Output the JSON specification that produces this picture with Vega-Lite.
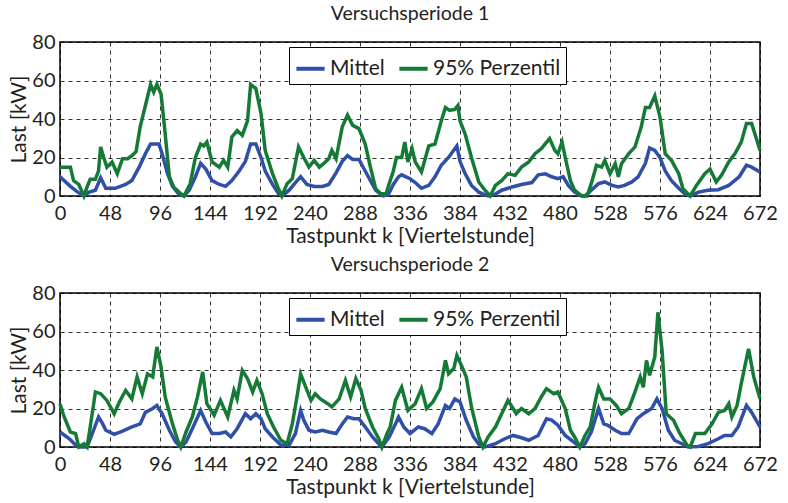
{
"$schema": "https://vega.github.io/schema/vega-lite/v6.json",
"background": "white",
"padding": {"left": 8, "top": 2, "right": 5, "bottom": 5},
"config": {
 "font": "Lato",
 "view": {"stroke": "black", "strokeWidth": 1.5},
 "axis": {"grid": true, "gridColor": "black", "gridDash": [4, 4], "gridOpacity": 0.8, "gridWidth": 1, "domain": false, "ticks": false, "labelFontSize": 20, "labelColor": "#231f20", "titleFontSize": 21, "titleFontWeight": "normal", "titleColor": "#231f20", "labelPadding": 7, "titlePadding": 2, "labelOverlap": false, "labelFlush": false},
 "axisY": {"labelPadding": 5},
 "title": {"fontSize": 19.5, "fontWeight": "normal", "color": "#231f20", "offset": 8},
 "legend": {"strokeColor": "black", "fillColor": "white", "padding": 5, "symbolType": "stroke", "symbolStrokeWidth": 4, "symbolSize": 800, "labelFontSize": 21, "labelColor": "#231f20", "columnPadding": 6, "labelOffset": 3}
},
"spacing": 6,
"resolve": {"legend": {"color": "independent"}},
"datasets": {
"p1": [
{"s":"Mittel","k":0,"v":10},{"s":"Mittel","k":10,"v":5},{"s":"Mittel","k":17,"v":2},{"s":"Mittel","k":23,"v":0},{"s":"Mittel","k":28,"v":2},{"s":"Mittel","k":34,"v":3},{"s":"Mittel","k":39,"v":9.5},{"s":"Mittel","k":44,"v":4},{"s":"Mittel","k":53,"v":4},{"s":"Mittel","k":63,"v":6},{"s":"Mittel","k":69,"v":8},{"s":"Mittel","k":76,"v":15},{"s":"Mittel","k":82,"v":22},{"s":"Mittel","k":87,"v":27},{"s":"Mittel","k":95,"v":27},{"s":"Mittel","k":98,"v":22},{"s":"Mittel","k":103,"v":12},{"s":"Mittel","k":108,"v":5},{"s":"Mittel","k":114,"v":1},{"s":"Mittel","k":119,"v":0},{"s":"Mittel","k":124,"v":3},{"s":"Mittel","k":130,"v":10},{"s":"Mittel","k":135,"v":17},{"s":"Mittel","k":140,"v":14},{"s":"Mittel","k":146,"v":8},{"s":"Mittel","k":153,"v":6},{"s":"Mittel","k":159,"v":5},{"s":"Mittel","k":165,"v":8},{"s":"Mittel","k":172,"v":13},{"s":"Mittel","k":178,"v":18},{"s":"Mittel","k":183,"v":27},{"s":"Mittel","k":188,"v":27},{"s":"Mittel","k":193,"v":20},{"s":"Mittel","k":197,"v":13},{"s":"Mittel","k":204,"v":6},{"s":"Mittel","k":210,"v":1},{"s":"Mittel","k":213,"v":0},{"s":"Mittel","k":220,"v":3},{"s":"Mittel","k":226,"v":7},{"s":"Mittel","k":231,"v":10},{"s":"Mittel","k":237,"v":6},{"s":"Mittel","k":244,"v":5},{"s":"Mittel","k":252,"v":5},{"s":"Mittel","k":258,"v":6},{"s":"Mittel","k":265,"v":12},{"s":"Mittel","k":271,"v":18},{"s":"Mittel","k":276,"v":21},{"s":"Mittel","k":281,"v":19},{"s":"Mittel","k":287,"v":19},{"s":"Mittel","k":293,"v":13},{"s":"Mittel","k":298,"v":8},{"s":"Mittel","k":303,"v":3},{"s":"Mittel","k":310,"v":0},{"s":"Mittel","k":315,"v":0.5},{"s":"Mittel","k":320,"v":6},{"s":"Mittel","k":325,"v":10},{"s":"Mittel","k":328,"v":11},{"s":"Mittel","k":336,"v":9},{"s":"Mittel","k":341,"v":7},{"s":"Mittel","k":347,"v":4},{"s":"Mittel","k":354,"v":5.5},{"s":"Mittel","k":360,"v":10},{"s":"Mittel","k":366,"v":16},{"s":"Mittel","k":373,"v":20},{"s":"Mittel","k":379,"v":24.5},{"s":"Mittel","k":381,"v":26},{"s":"Mittel","k":384,"v":18},{"s":"Mittel","k":389,"v":11.5},{"s":"Mittel","k":395,"v":5.5},{"s":"Mittel","k":402,"v":2},{"s":"Mittel","k":411,"v":0},{"s":"Mittel","k":418,"v":1},{"s":"Mittel","k":424,"v":3},{"s":"Mittel","k":434,"v":4.7},{"s":"Mittel","k":443,"v":6},{"s":"Mittel","k":453,"v":7},{"s":"Mittel","k":459,"v":11},{"s":"Mittel","k":466,"v":11.5},{"s":"Mittel","k":472,"v":10},{"s":"Mittel","k":478,"v":9},{"s":"Mittel","k":483,"v":10},{"s":"Mittel","k":488,"v":5.5},{"s":"Mittel","k":494,"v":2},{"s":"Mittel","k":501,"v":0},{"s":"Mittel","k":504,"v":0},{"s":"Mittel","k":510,"v":3},{"s":"Mittel","k":517,"v":6.4},{"s":"Mittel","k":523,"v":7.3},{"s":"Mittel","k":530,"v":5.5},{"s":"Mittel","k":536,"v":4.7},{"s":"Mittel","k":542,"v":5.5},{"s":"Mittel","k":549,"v":7.3},{"s":"Mittel","k":555,"v":10},{"s":"Mittel","k":562,"v":17},{"s":"Mittel","k":566,"v":25},{"s":"Mittel","k":571,"v":23.7},{"s":"Mittel","k":576,"v":20},{"s":"Mittel","k":581,"v":13},{"s":"Mittel","k":587,"v":8},{"s":"Mittel","k":594,"v":4},{"s":"Mittel","k":600,"v":1},{"s":"Mittel","k":605,"v":0},{"s":"Mittel","k":613,"v":2},{"s":"Mittel","k":622,"v":3},{"s":"Mittel","k":632,"v":3.3},{"s":"Mittel","k":642,"v":5.5},{"s":"Mittel","k":652,"v":10},{"s":"Mittel","k":659,"v":16},{"s":"Mittel","k":664,"v":15},{"s":"Mittel","k":672,"v":12.5},
{"s":"95% Perzentil","k":0,"v":15},{"s":"95% Perzentil","k":10,"v":15},{"s":"95% Perzentil","k":13,"v":8},{"s":"95% Perzentil","k":18,"v":6},{"s":"95% Perzentil","k":23,"v":0},{"s":"95% Perzentil","k":26,"v":4.7},{"s":"95% Perzentil","k":29,"v":8.7},{"s":"95% Perzentil","k":34,"v":8.7},{"s":"95% Perzentil","k":37,"v":13},{"s":"95% Perzentil","k":39,"v":25.5},{"s":"95% Perzentil","k":42,"v":20},{"s":"95% Perzentil","k":45,"v":15},{"s":"95% Perzentil","k":50,"v":17.7},{"s":"95% Perzentil","k":55,"v":11.6},{"s":"95% Perzentil","k":60,"v":19.4},{"s":"95% Perzentil","k":65,"v":19.4},{"s":"95% Perzentil","k":69,"v":21},{"s":"95% Perzentil","k":73,"v":23},{"s":"95% Perzentil","k":77,"v":36},{"s":"95% Perzentil","k":82,"v":47},{"s":"95% Perzentil","k":87,"v":58},{"s":"95% Perzentil","k":90,"v":54},{"s":"95% Perzentil","k":93,"v":58},{"s":"95% Perzentil","k":97,"v":53},{"s":"95% Perzentil","k":100,"v":37.6},{"s":"95% Perzentil","k":105,"v":10},{"s":"95% Perzentil","k":109,"v":4.7},{"s":"95% Perzentil","k":116,"v":1.2},{"s":"95% Perzentil","k":119,"v":0},{"s":"95% Perzentil","k":125,"v":6.4},{"s":"95% Perzentil","k":130,"v":20},{"s":"95% Perzentil","k":135,"v":27},{"s":"95% Perzentil","k":138,"v":26},{"s":"95% Perzentil","k":141,"v":28},{"s":"95% Perzentil","k":146,"v":17.7},{"s":"95% Perzentil","k":153,"v":15},{"s":"95% Perzentil","k":157,"v":18.5},{"s":"95% Perzentil","k":161,"v":15},{"s":"95% Perzentil","k":165,"v":30.7},{"s":"95% Perzentil","k":170,"v":34},{"s":"95% Perzentil","k":175,"v":31.5},{"s":"95% Perzentil","k":180,"v":39},{"s":"95% Perzentil","k":183,"v":58},{"s":"95% Perzentil","k":188,"v":55.8},{"s":"95% Perzentil","k":193,"v":42.8},{"s":"95% Perzentil","k":197,"v":23.7},{"s":"95% Perzentil","k":204,"v":11.6},{"s":"95% Perzentil","k":209,"v":4.7},{"s":"95% Perzentil","k":213,"v":0},{"s":"95% Perzentil","k":218,"v":6.4},{"s":"95% Perzentil","k":223,"v":9},{"s":"95% Perzentil","k":229,"v":25.5},{"s":"95% Perzentil","k":234,"v":20},{"s":"95% Perzentil","k":239,"v":15},{"s":"95% Perzentil","k":244,"v":18.5},{"s":"95% Perzentil","k":249,"v":15},{"s":"95% Perzentil","k":253,"v":16.8},{"s":"95% Perzentil","k":258,"v":19.4},{"s":"95% Perzentil","k":261,"v":23.7},{"s":"95% Perzentil","k":265,"v":19.4},{"s":"95% Perzentil","k":271,"v":36},{"s":"95% Perzentil","k":276,"v":42},{"s":"95% Perzentil","k":281,"v":36.7},{"s":"95% Perzentil","k":287,"v":35},{"s":"95% Perzentil","k":293,"v":27},{"s":"95% Perzentil","k":298,"v":15},{"s":"95% Perzentil","k":303,"v":3.8},{"s":"95% Perzentil","k":308,"v":1.2},{"s":"95% Perzentil","k":313,"v":1.2},{"s":"95% Perzentil","k":315,"v":4.7},{"s":"95% Perzentil","k":320,"v":13},{"s":"95% Perzentil","k":323,"v":20},{"s":"95% Perzentil","k":328,"v":20},{"s":"95% Perzentil","k":331,"v":28},{"s":"95% Perzentil","k":334,"v":17.7},{"s":"95% Perzentil","k":338,"v":24.6},{"s":"95% Perzentil","k":341,"v":17.7},{"s":"95% Perzentil","k":347,"v":12.5},{"s":"95% Perzentil","k":354,"v":26},{"s":"95% Perzentil","k":360,"v":27},{"s":"95% Perzentil","k":366,"v":39},{"s":"95% Perzentil","k":370,"v":46},{"s":"95% Perzentil","k":374,"v":44.5},{"s":"95% Perzentil","k":379,"v":45},{"s":"95% Perzentil","k":382,"v":47},{"s":"95% Perzentil","k":384,"v":39},{"s":"95% Perzentil","k":389,"v":32},{"s":"95% Perzentil","k":395,"v":20},{"s":"95% Perzentil","k":402,"v":7.3},{"s":"95% Perzentil","k":408,"v":3},{"s":"95% Perzentil","k":413,"v":0},{"s":"95% Perzentil","k":418,"v":5.5},{"s":"95% Perzentil","k":424,"v":8},{"s":"95% Perzentil","k":430,"v":11.6},{"s":"95% Perzentil","k":437,"v":10.7},{"s":"95% Perzentil","k":443,"v":15},{"s":"95% Perzentil","k":450,"v":17.7},{"s":"95% Perzentil","k":456,"v":22},{"s":"95% Perzentil","k":462,"v":24.6},{"s":"95% Perzentil","k":470,"v":29.8},{"s":"95% Perzentil","k":475,"v":23.7},{"s":"95% Perzentil","k":478,"v":22},{"s":"95% Perzentil","k":482,"v":28},{"s":"95% Perzentil","k":485,"v":20},{"s":"95% Perzentil","k":490,"v":8},{"s":"95% Perzentil","k":494,"v":3},{"s":"95% Perzentil","k":501,"v":0},{"s":"95% Perzentil","k":506,"v":0},{"s":"95% Perzentil","k":510,"v":6.4},{"s":"95% Perzentil","k":515,"v":16},{"s":"95% Perzentil","k":520,"v":15},{"s":"95% Perzentil","k":523,"v":18.5},{"s":"95% Perzentil","k":528,"v":11.6},{"s":"95% Perzentil","k":533,"v":16.8},{"s":"95% Perzentil","k":536,"v":10},{"s":"95% Perzentil","k":539,"v":16.8},{"s":"95% Perzentil","k":546,"v":22},{"s":"95% Perzentil","k":552,"v":25.5},{"s":"95% Perzentil","k":558,"v":36},{"s":"95% Perzentil","k":562,"v":46},{"s":"95% Perzentil","k":566,"v":46},{"s":"95% Perzentil","k":571,"v":52},{"s":"95% Perzentil","k":576,"v":41},{"s":"95% Perzentil","k":581,"v":22},{"s":"95% Perzentil","k":587,"v":18.5},{"s":"95% Perzentil","k":594,"v":11.6},{"s":"95% Perzentil","k":598,"v":3.8},{"s":"95% Perzentil","k":605,"v":0},{"s":"95% Perzentil","k":611,"v":5.5},{"s":"95% Perzentil","k":619,"v":11.6},{"s":"95% Perzentil","k":624,"v":14},{"s":"95% Perzentil","k":630,"v":7.3},{"s":"95% Perzentil","k":635,"v":10.7},{"s":"95% Perzentil","k":642,"v":17.7},{"s":"95% Perzentil","k":648,"v":22},{"s":"95% Perzentil","k":654,"v":28},{"s":"95% Perzentil","k":659,"v":37.6},{"s":"95% Perzentil","k":664,"v":37.6},{"s":"95% Perzentil","k":669,"v":29},{"s":"95% Perzentil","k":672,"v":23.7}
],
"p2": [
{"s":"Mittel","k":0,"v":7.8},{"s":"Mittel","k":9,"v":4.3},{"s":"Mittel","k":15,"v":1},{"s":"Mittel","k":18,"v":0},{"s":"Mittel","k":26,"v":0},{"s":"Mittel","k":31,"v":7},{"s":"Mittel","k":37,"v":15.6},{"s":"Mittel","k":41,"v":12},{"s":"Mittel","k":44,"v":8.7},{"s":"Mittel","k":52,"v":6.6},{"s":"Mittel","k":60,"v":8.3},{"s":"Mittel","k":69,"v":10.4},{"s":"Mittel","k":77,"v":12},{"s":"Mittel","k":82,"v":18},{"s":"Mittel","k":89,"v":20},{"s":"Mittel","k":93,"v":21.6},{"s":"Mittel","k":98,"v":17.3},{"s":"Mittel","k":105,"v":8.7},{"s":"Mittel","k":111,"v":2.6},{"s":"Mittel","k":116,"v":0},{"s":"Mittel","k":121,"v":2.6},{"s":"Mittel","k":127,"v":9.5},{"s":"Mittel","k":135,"v":19},{"s":"Mittel","k":140,"v":13},{"s":"Mittel","k":146,"v":7},{"s":"Mittel","k":153,"v":7},{"s":"Mittel","k":159,"v":7.8},{"s":"Mittel","k":164,"v":5.2},{"s":"Mittel","k":170,"v":9.5},{"s":"Mittel","k":178,"v":17.3},{"s":"Mittel","k":183,"v":14.7},{"s":"Mittel","k":188,"v":17.3},{"s":"Mittel","k":193,"v":14.7},{"s":"Mittel","k":197,"v":9.5},{"s":"Mittel","k":204,"v":5.2},{"s":"Mittel","k":212,"v":1},{"s":"Mittel","k":220,"v":1},{"s":"Mittel","k":226,"v":7},{"s":"Mittel","k":231,"v":19},{"s":"Mittel","k":234,"v":14},{"s":"Mittel","k":239,"v":8.7},{"s":"Mittel","k":245,"v":7.8},{"s":"Mittel","k":252,"v":8.7},{"s":"Mittel","k":258,"v":7.8},{"s":"Mittel","k":265,"v":7},{"s":"Mittel","k":271,"v":12},{"s":"Mittel","k":276,"v":15.6},{"s":"Mittel","k":282,"v":14.7},{"s":"Mittel","k":287,"v":14.7},{"s":"Mittel","k":293,"v":10.4},{"s":"Mittel","k":300,"v":5.2},{"s":"Mittel","k":306,"v":1.7},{"s":"Mittel","k":309,"v":0},{"s":"Mittel","k":316,"v":5.2},{"s":"Mittel","k":322,"v":12},{"s":"Mittel","k":325,"v":15.6},{"s":"Mittel","k":330,"v":10.4},{"s":"Mittel","k":336,"v":7},{"s":"Mittel","k":344,"v":10.4},{"s":"Mittel","k":350,"v":9.5},{"s":"Mittel","k":357,"v":7},{"s":"Mittel","k":363,"v":12},{"s":"Mittel","k":370,"v":21.6},{"s":"Mittel","k":374,"v":20},{"s":"Mittel","k":379,"v":25},{"s":"Mittel","k":384,"v":23.4},{"s":"Mittel","k":390,"v":13.9},{"s":"Mittel","k":397,"v":5.2},{"s":"Mittel","k":403,"v":0.9},{"s":"Mittel","k":408,"v":0},{"s":"Mittel","k":418,"v":1.7},{"s":"Mittel","k":427,"v":4.3},{"s":"Mittel","k":435,"v":6},{"s":"Mittel","k":443,"v":4.8},{"s":"Mittel","k":450,"v":3.5},{"s":"Mittel","k":459,"v":6},{"s":"Mittel","k":467,"v":14.7},{"s":"Mittel","k":472,"v":14},{"s":"Mittel","k":478,"v":11.3},{"s":"Mittel","k":485,"v":6},{"s":"Mittel","k":493,"v":2.6},{"s":"Mittel","k":499,"v":0},{"s":"Mittel","k":504,"v":1.7},{"s":"Mittel","k":510,"v":7.8},{"s":"Mittel","k":517,"v":20},{"s":"Mittel","k":522,"v":12},{"s":"Mittel","k":526,"v":11.3},{"s":"Mittel","k":533,"v":8.7},{"s":"Mittel","k":539,"v":7},{"s":"Mittel","k":546,"v":7},{"s":"Mittel","k":554,"v":14.7},{"s":"Mittel","k":560,"v":17.3},{"s":"Mittel","k":568,"v":20},{"s":"Mittel","k":573,"v":25},{"s":"Mittel","k":578,"v":20},{"s":"Mittel","k":584,"v":8.7},{"s":"Mittel","k":590,"v":3.5},{"s":"Mittel","k":597,"v":1.7},{"s":"Mittel","k":603,"v":0},{"s":"Mittel","k":613,"v":0.3},{"s":"Mittel","k":622,"v":1.7},{"s":"Mittel","k":632,"v":4.3},{"s":"Mittel","k":638,"v":6},{"s":"Mittel","k":645,"v":6},{"s":"Mittel","k":651,"v":10.4},{"s":"Mittel","k":659,"v":21.6},{"s":"Mittel","k":664,"v":18},{"s":"Mittel","k":672,"v":10.4},
{"s":"95% Perzentil","k":0,"v":22.5},{"s":"95% Perzentil","k":4,"v":15.6},{"s":"95% Perzentil","k":10,"v":7.8},{"s":"95% Perzentil","k":15,"v":7},{"s":"95% Perzentil","k":18,"v":0},{"s":"95% Perzentil","k":23,"v":1.7},{"s":"95% Perzentil","k":26,"v":0},{"s":"95% Perzentil","k":29,"v":10.4},{"s":"95% Perzentil","k":34,"v":28.6},{"s":"95% Perzentil","k":39,"v":27.7},{"s":"95% Perzentil","k":45,"v":24.2},{"s":"95% Perzentil","k":52,"v":17.3},{"s":"95% Perzentil","k":57,"v":23.4},{"s":"95% Perzentil","k":63,"v":29.4},{"s":"95% Perzentil","k":69,"v":25},{"s":"95% Perzentil","k":74,"v":36.4},{"s":"95% Perzentil","k":79,"v":27.7},{"s":"95% Perzentil","k":84,"v":38},{"s":"95% Perzentil","k":89,"v":36.4},{"s":"95% Perzentil","k":93,"v":52},{"s":"95% Perzentil","k":97,"v":41.6},{"s":"95% Perzentil","k":101,"v":26},{"s":"95% Perzentil","k":108,"v":12},{"s":"95% Perzentil","k":113,"v":3.5},{"s":"95% Perzentil","k":116,"v":0},{"s":"95% Perzentil","k":121,"v":7.8},{"s":"95% Perzentil","k":127,"v":15.6},{"s":"95% Perzentil","k":132,"v":26},{"s":"95% Perzentil","k":137,"v":39},{"s":"95% Perzentil","k":141,"v":22.5},{"s":"95% Perzentil","k":148,"v":16.5},{"s":"95% Perzentil","k":154,"v":24.2},{"s":"95% Perzentil","k":161,"v":15.6},{"s":"95% Perzentil","k":167,"v":29.4},{"s":"95% Perzentil","k":170,"v":25},{"s":"95% Perzentil","k":175,"v":39.8},{"s":"95% Perzentil","k":180,"v":35.5},{"s":"95% Perzentil","k":185,"v":28.6},{"s":"95% Perzentil","k":189,"v":34.6},{"s":"95% Perzentil","k":194,"v":27.7},{"s":"95% Perzentil","k":199,"v":17.3},{"s":"95% Perzentil","k":205,"v":10.4},{"s":"95% Perzentil","k":212,"v":3.5},{"s":"95% Perzentil","k":218,"v":1.7},{"s":"95% Perzentil","k":223,"v":12},{"s":"95% Perzentil","k":228,"v":27.7},{"s":"95% Perzentil","k":231,"v":38},{"s":"95% Perzentil","k":236,"v":31},{"s":"95% Perzentil","k":241,"v":24.2},{"s":"95% Perzentil","k":245,"v":27.7},{"s":"95% Perzentil","k":250,"v":25},{"s":"95% Perzentil","k":257,"v":22.5},{"s":"95% Perzentil","k":261,"v":20.8},{"s":"95% Perzentil","k":268,"v":25},{"s":"95% Perzentil","k":274,"v":34.6},{"s":"95% Perzentil","k":279,"v":26},{"s":"95% Perzentil","k":284,"v":35.5},{"s":"95% Perzentil","k":289,"v":29.4},{"s":"95% Perzentil","k":293,"v":20},{"s":"95% Perzentil","k":300,"v":10.4},{"s":"95% Perzentil","k":306,"v":4.3},{"s":"95% Perzentil","k":309,"v":0},{"s":"95% Perzentil","k":314,"v":7},{"s":"95% Perzentil","k":317,"v":10.4},{"s":"95% Perzentil","k":322,"v":24.2},{"s":"95% Perzentil","k":328,"v":31},{"s":"95% Perzentil","k":334,"v":19},{"s":"95% Perzentil","k":341,"v":22.5},{"s":"95% Perzentil","k":347,"v":30.3},{"s":"95% Perzentil","k":352,"v":20},{"s":"95% Perzentil","k":358,"v":23.4},{"s":"95% Perzentil","k":365,"v":30.3},{"s":"95% Perzentil","k":370,"v":45},{"s":"95% Perzentil","k":373,"v":38},{"s":"95% Perzentil","k":378,"v":40.7},{"s":"95% Perzentil","k":381,"v":47.6},{"s":"95% Perzentil","k":386,"v":41.6},{"s":"95% Perzentil","k":390,"v":36.4},{"s":"95% Perzentil","k":395,"v":20.8},{"s":"95% Perzentil","k":402,"v":5.2},{"s":"95% Perzentil","k":406,"v":0},{"s":"95% Perzentil","k":411,"v":5.2},{"s":"95% Perzentil","k":418,"v":10.4},{"s":"95% Perzentil","k":424,"v":17.3},{"s":"95% Perzentil","k":430,"v":24.2},{"s":"95% Perzentil","k":435,"v":20},{"s":"95% Perzentil","k":438,"v":17.3},{"s":"95% Perzentil","k":443,"v":20},{"s":"95% Perzentil","k":450,"v":17.3},{"s":"95% Perzentil","k":456,"v":20},{"s":"95% Perzentil","k":462,"v":26},{"s":"95% Perzentil","k":467,"v":30.3},{"s":"95% Perzentil","k":474,"v":27.7},{"s":"95% Perzentil","k":478,"v":28.6},{"s":"95% Perzentil","k":485,"v":20},{"s":"95% Perzentil","k":490,"v":8.7},{"s":"95% Perzentil","k":494,"v":5.2},{"s":"95% Perzentil","k":499,"v":0},{"s":"95% Perzentil","k":504,"v":6},{"s":"95% Perzentil","k":509,"v":10.4},{"s":"95% Perzentil","k":514,"v":24.2},{"s":"95% Perzentil","k":517,"v":31},{"s":"95% Perzentil","k":522,"v":25},{"s":"95% Perzentil","k":528,"v":25},{"s":"95% Perzentil","k":534,"v":21.6},{"s":"95% Perzentil","k":539,"v":17.3},{"s":"95% Perzentil","k":546,"v":20},{"s":"95% Perzentil","k":552,"v":28.6},{"s":"95% Perzentil","k":557,"v":36.4},{"s":"95% Perzentil","k":560,"v":31},{"s":"95% Perzentil","k":563,"v":45},{"s":"95% Perzentil","k":566,"v":37.2},{"s":"95% Perzentil","k":571,"v":46.8},{"s":"95% Perzentil","k":574,"v":70},{"s":"95% Perzentil","k":578,"v":50},{"s":"95% Perzentil","k":582,"v":17.3},{"s":"95% Perzentil","k":589,"v":13.9},{"s":"95% Perzentil","k":595,"v":7},{"s":"95% Perzentil","k":602,"v":0.9},{"s":"95% Perzentil","k":605,"v":0},{"s":"95% Perzentil","k":610,"v":7},{"s":"95% Perzentil","k":619,"v":7},{"s":"95% Perzentil","k":626,"v":12},{"s":"95% Perzentil","k":632,"v":18},{"s":"95% Perzentil","k":638,"v":19},{"s":"95% Perzentil","k":642,"v":22.5},{"s":"95% Perzentil","k":645,"v":15.6},{"s":"95% Perzentil","k":650,"v":21.6},{"s":"95% Perzentil","k":654,"v":32.9},{"s":"95% Perzentil","k":661,"v":51},{"s":"95% Perzentil","k":666,"v":36.4},{"s":"95% Perzentil","k":672,"v":25}
]
},
"vconcat": [
{
 "title": "Versuchsperiode 1",
 "width": 700, "height": 154,
 "data": {"name": "p1"},
 "mark": {"type": "line", "strokeWidth": 3.5},
 "encoding": {
  "x": {"field": "k", "type": "quantitative", "scale": {"domain": [0, 672], "nice": false, "zero": false}, "axis": {"values": [0,48,96,144,192,240,288,336,384,432,480,528,576,624,672], "title": "Tastpunkt k [Viertelstunde]"}},
  "y": {"field": "v", "type": "quantitative", "scale": {"domain": [0, 80], "nice": false}, "axis": {"values": [0,20,40,60,80], "title": "Last [kW]"}},
  "color": {"field": "s", "type": "nominal", "scale": {"domain": ["Mittel", "95% Perzentil"], "range": ["#2f4fa8", "#157a36"]}, "legend": {"title": null, "orient": "none", "legendX": 229, "legendY": 5, "direction": "horizontal"}}
 }
},
{
 "title": "Versuchsperiode 2",
 "width": 700, "height": 154,
 "data": {"name": "p2"},
 "mark": {"type": "line", "strokeWidth": 3.5},
 "encoding": {
  "x": {"field": "k", "type": "quantitative", "scale": {"domain": [0, 672], "nice": false, "zero": false}, "axis": {"values": [0,48,96,144,192,240,288,336,384,432,480,528,576,624,672], "title": "Tastpunkt k [Viertelstunde]"}},
  "y": {"field": "v", "type": "quantitative", "scale": {"domain": [0, 80], "nice": false}, "axis": {"values": [0,20,40,60,80], "title": "Last [kW]"}},
  "color": {"field": "s", "type": "nominal", "scale": {"domain": ["Mittel", "95% Perzentil"], "range": ["#2f4fa8", "#157a36"]}, "legend": {"title": null, "orient": "none", "legendX": 229, "legendY": 5, "direction": "horizontal"}}
 }
}
]
}
